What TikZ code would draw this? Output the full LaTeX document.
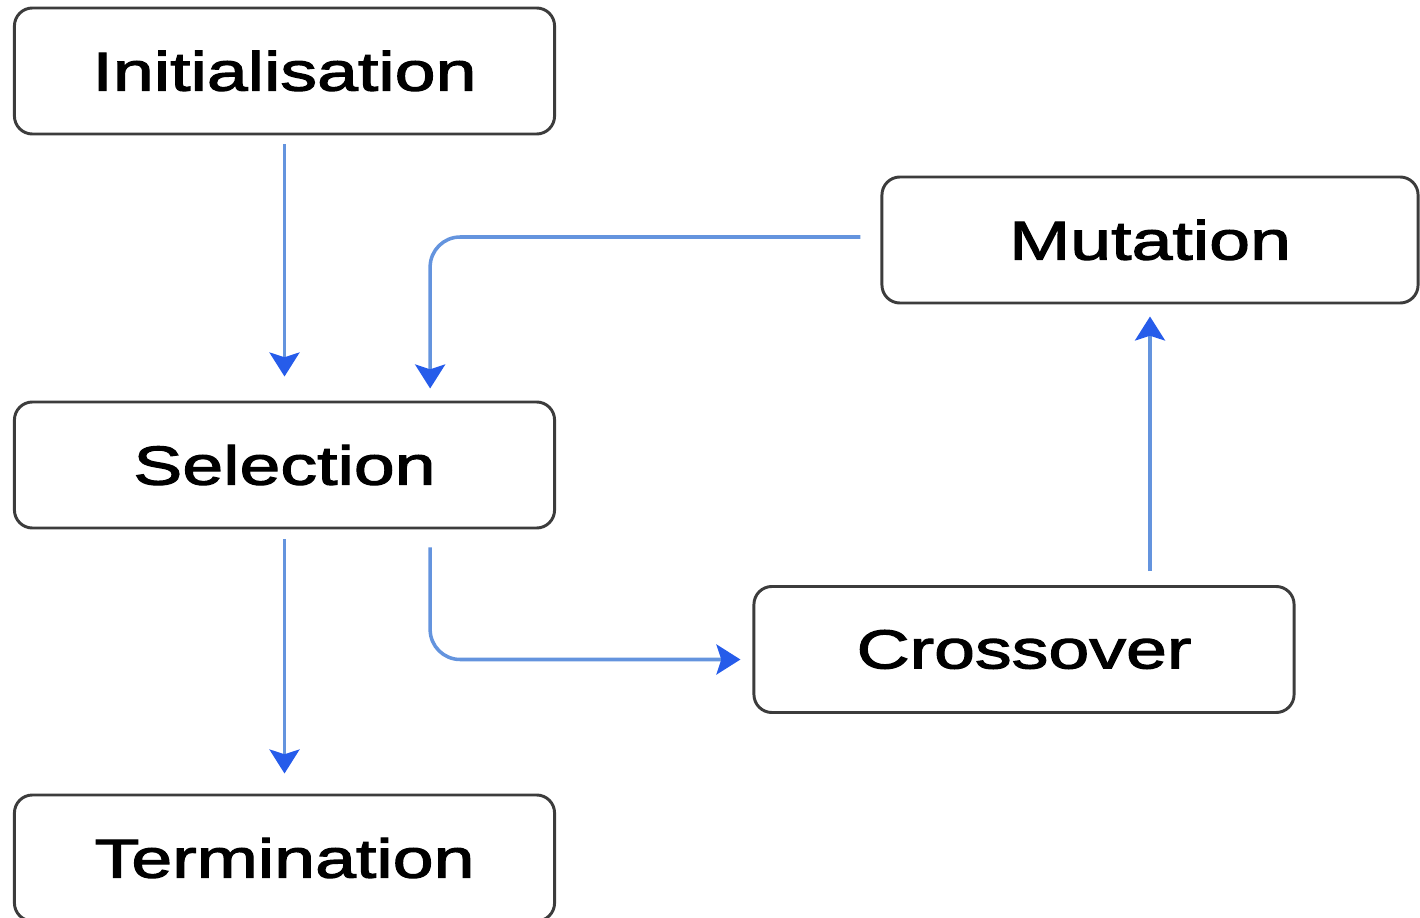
\documentclass[tikz,border=0pt]{standalone}
\usepackage{fontspec}
\setmainfont{Liberation Sans}[FakeStretch=1.34, FakeBold=2.2]
\usetikzlibrary{arrows.meta}
\definecolor{boxgray}{RGB}{60,60,60}
\definecolor{linkblue}{RGB}{100,148,222}
\definecolor{tipblue}{RGB}{38,92,234}

\begin{document}
\begin{tikzpicture}[x=0.025cm, y=-0.025cm,
	stage/.style={draw=boxgray, line width=2.1pt, rounded corners=0.45cm,
		minimum height=3.15cm, inner sep=0pt,
		font=\fontsize{39}{42}\selectfont},
	link/.style={draw=linkblue, line width=2.5pt, rounded corners=0.75cm,
		-{Stealth[length=0.6cm, width=0.75cm, inset=0.12cm, color=tipblue]}}]
\useasboundingbox (0,0) rectangle (1420,918);

% stages
\node[stage, minimum width=13.5cm] (init) at (284.5,71) {Initialisation};
\node[stage, minimum width=13.5cm] (sel) at (284.5,465) {Selection};
\node[stage, minimum width=13.5cm] (term) at (284.5,858) {Termination};
\node[stage, minimum width=13.4cm] (mut) at (1150,240) {Mutation};
\node[stage, minimum width=13.5cm] (cross) at (1024,649.5) {Crossover};

% links
\draw[link, shorten <=0.22cm, shorten >=0.6cm] (init) -- (sel);
\draw[link, shorten <=0.25cm, shorten >=0.5cm] (sel) -- (term);
\draw[link, shorten <=0.5cm, shorten >=0.3cm]
	([yshift=0.075cm]mut.west) -| ([xshift=3.64cm]sel.north);
\draw[link, shorten <=0.45cm, shorten >=0.3cm]
	([xshift=3.64cm]sel.south) |- ([yshift=-0.25cm]cross.west);
\draw[link, shorten <=0.35cm, shorten >=0.3cm]
	(cross.north -| mut.south) -- (mut.south);

\end{tikzpicture}
\end{document}
